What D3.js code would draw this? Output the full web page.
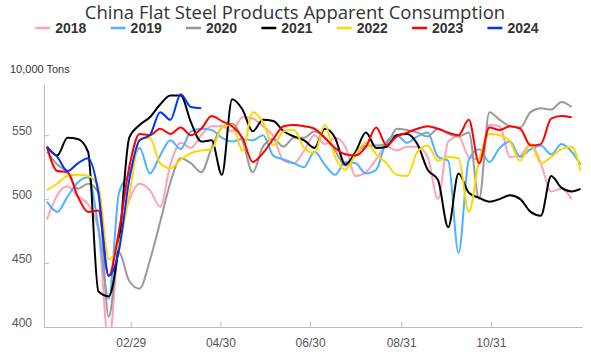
<!DOCTYPE html>
<html>
    <head>
        <meta charset="utf-8">
        <style>
            body {
                margin: 0;
                font-family: "Liberation Sans", Arial, sans-serif;
                background: #fff;
            }
            .title {
                font-family: "Open Sans", sans-serif;
                font-size: 18.5px;
                fill: #333;
            }
            .legend-text {
                font-size: 14px;
                font-weight: bold;
                fill: #333;
            }
            .unit {
                font-size: 11px;
                fill: #333;
            }
            .axis path, .axis line {
                stroke: #bbb;
            }
            .axis text {
                font-family: "Liberation Sans", Arial, sans-serif;
                font-size: 12px;
                fill: #555;
            }
            .series {
                fill: none;
                stroke-width: 2;
            }
        </style>
    </head>
    <body>
        <script src="https://d3js.org/d3.v7.min.js"></script>

        <script>
            // weekly dates, put on one calendar year
            const dates = ["01/03","01/10","01/17","01/24","01/31","02/07","02/14","02/21","02/28",
                "03/06","03/13","03/20","03/27","04/03","04/10","04/17","04/24","05/01","05/08",
                "05/15","05/22","05/29","06/05","06/12","06/19","06/26","07/03","07/10","07/17",
                "07/24","07/31","08/07","08/14","08/21","08/28","09/04","09/11","09/18","09/25",
                "10/02","10/09","10/16","10/23","10/30","11/06","11/13","11/20","11/27","12/04",
                "12/11","12/18","12/25","12/31"];

            const years = ["2018", "2019", "2020", "2021", "2022", "2023", "2024"];
            const colors = ["#ffa0bb", "#4db3ff", "#999999", "#000000", "#ffd700", "#ff0000", "#0033ff"];

            const v2018 = [484, 503, 510, 502, 496, 475, 388, 470, 499, 512, 507, 494, 527, 544, 540, 550, 557, 557,
                553, 564, 563, 557, 549, 530, 528, 538, 550, 543, 548, 541, 518, 521, 531, 541, 538, 541, 541, 533,
                500, 545, 549, 533, 531, 558, 557, 533, 534, 543, 528, 506, 508, 500, null];
            const v2019 = [498, 490, 502, 513, 517, 478, 422, 505, 520, 540, 520, 534, 546, 539, 553, 555, 554, 548,
                545, 547, 546, 550, 534, 531, 528, 525, 537, 527, 519, 529, 528, 520, 523, 545, 550, 544, 549, 552,
                533, 530, 458, 531, 539, 529, 540, 545, 533, 539, 542, 535, 543, 537, 527];
            const v2020 = [537, 527, 521, 508, 512, 505, 408, 458, 436, 430, 452, 482, 513, 532, 528, 521, 540, 556,
                559, 546, 521, 541, 547, 541, 548, 548, 553, 548, 538, 526, 535, 542, 542, 543, 555, 554, 552, 549,
                555, 551, 549, 552, 500, 568, 562, 557, 556, 568, 571, 570, 576, 572, null];
            const v2021 = [541, 534, 548, 547, 537, 428, 424, 465, 548, 558, 564, 574, 581, 581, 560, 545, 546, 519,
                578, 570, 553, 562, 561, 553, 549, 546, 540, 555, 548, 527, 537, 552, 540, 541, 550, 551, 543, 523,
                515, 478, 520, 505, 501, 498, 500, 503, 500, 490, 487, 518, 509, 506, 508];
            const v2022 = [507, 512, 518, 519, 518, 510, 453, 465, 503, 546, 548, 528, 524, 531, 536, 538, 539, 556,
                558, 538, 568, 560, 542, 553, 554, 540, 536, 558, 533, 523, 535, 544, 535, 528, 519, 518, 537, 542,
                530, 533, 532, 490, 530, 551, 550, 545, 530, 543, 528, 533, 539, 541, 522];
            const v2023 = [541, 522, 521, 502, 490, 491, 440, 475, 525, 551, 550, 555, 551, 556, 550, 555, 565, 561,
                557, 548, 529, 536, 547, 557, 558, 557, 555, 548, 540, 535, 534, 541, 556, 542, 549, 552, 555, 557,
                555, 552, 550, 562, 528, 556, 554, 557, 555, 542, 543, 563, 565, 564, null];
            const v2024 = [540, 533, 522, 528, 532, 505, 440, 460, 515, 546, 550, 568, 562, 582, 572, 571];

            const yTicks = [400, 450, 500, 550];
            const xTickLabels = ["02/29", "04/30", "06/30", "08/31", "10/31"];

            const seriesValues = [v2018, v2019, v2020, v2021, v2022, v2023, v2024];

            const width = 591;
            const height = 352;
            const margin = ({top: 84, right: 9, bottom: 25, left: 44});

            const parseDay = d3.timeParse("%Y/%m/%d");
            const dayOf = s => parseDay("2024/" + s);

            const svg = d3.select("body").append("svg")
                .attr("width", width)
                .attr("height", height);

            const xScale = d3.scaleTime()
                .domain([parseDay("2024/01/01"), parseDay("2025/01/01")])
                .range([margin.left, width - margin.right]);

            const yScale = d3.scaleLinear()
                .domain([400, 590])
                .range([height - margin.bottom, margin.top]);

            // title, legend, unit
            svg.append("text")
                .attr("class", "title")
                .attr("x", 295)
                .attr("y", 19)
                .attr("text-anchor", "middle")
                .text("China Flat Steel Products Apparent Consumption");

            const legend = svg.append("g");
            const items = legend.selectAll("g")
                .data(years)
                .join("g");
            items.append("line")
                .attr("x1", 0).attr("x2", 15)
                .attr("y1", 0).attr("y2", 0)
                .attr("stroke", (d, i) => colors[i])
                .attr("stroke-width", 2.5);
            items.append("text")
                .attr("class", "legend-text")
                .attr("x", 20)
                .attr("y", 5)
                .text(d => d);
            let lx = 0;
            items.each(function() {
                const w = this.getBBox().width;
                d3.select(this).attr("transform", "translate(" + lx + ",28)");
                lx += w + 24;
            });
            const legendW = lx - 24;
            legend.attr("transform", "translate(" + (287 - legendW / 2) + ",0)");

            svg.append("text")
                .attr("class", "unit")
                .attr("x", 10)
                .attr("y", 73)
                .text("10,000 Tons");

            // axes
            const xAxis = d3.axisBottom(xScale)
                .tickValues(xTickLabels.map(dayOf))
                .tickFormat(d3.timeFormat("%m/%d"))
                .tickSizeInner(-5)
                .tickSizeOuter(0)
                .tickPadding(11);

            const yAxis = d3.axisLeft(yScale)
                .tickValues(yTicks)
                .tickSizeInner(-5)
                .tickSizeOuter(0)
                .tickPadding(12);

            svg.append("g")
                .attr("class", "axis")
                .attr("transform", "translate(0," + (height - margin.bottom) + ")")
                .call(xAxis);

            const yAxisG = svg.append("g")
                .attr("class", "axis")
                .attr("transform", "translate(" + margin.left + ",0)")
                .call(yAxis);
            yAxisG.selectAll("text").attr("dy", "-0.05em");

            svg.selectAll(".axis .domain").attr("stroke", "#bbb");

            // lines
            svg.append("clipPath")
                .attr("id", "plot-clip")
                .append("rect")
                .attr("x", margin.left)
                .attr("y", margin.top)
                .attr("width", width - margin.left - margin.right)
                .attr("height", height - margin.top - margin.bottom);

            const line = d3.line()
                .defined(d => d.v != null)
                .x(d => xScale(d.date))
                .y(d => yScale(d.v))
                .curve(d3.curveMonotoneX);

            const lineGroup = svg.append("g")
                .attr("clip-path", "url(#plot-clip)");

            seriesValues.forEach((vals, i) => {
                const pts = vals.map((v, k) => ({date: dayOf(dates[k]), v: v}));
                lineGroup.append("path")
                    .attr("class", "series")
                    .attr("stroke", colors[i])
                    .attr("d", line(pts));
            });
        </script>
    </body>
</html>
